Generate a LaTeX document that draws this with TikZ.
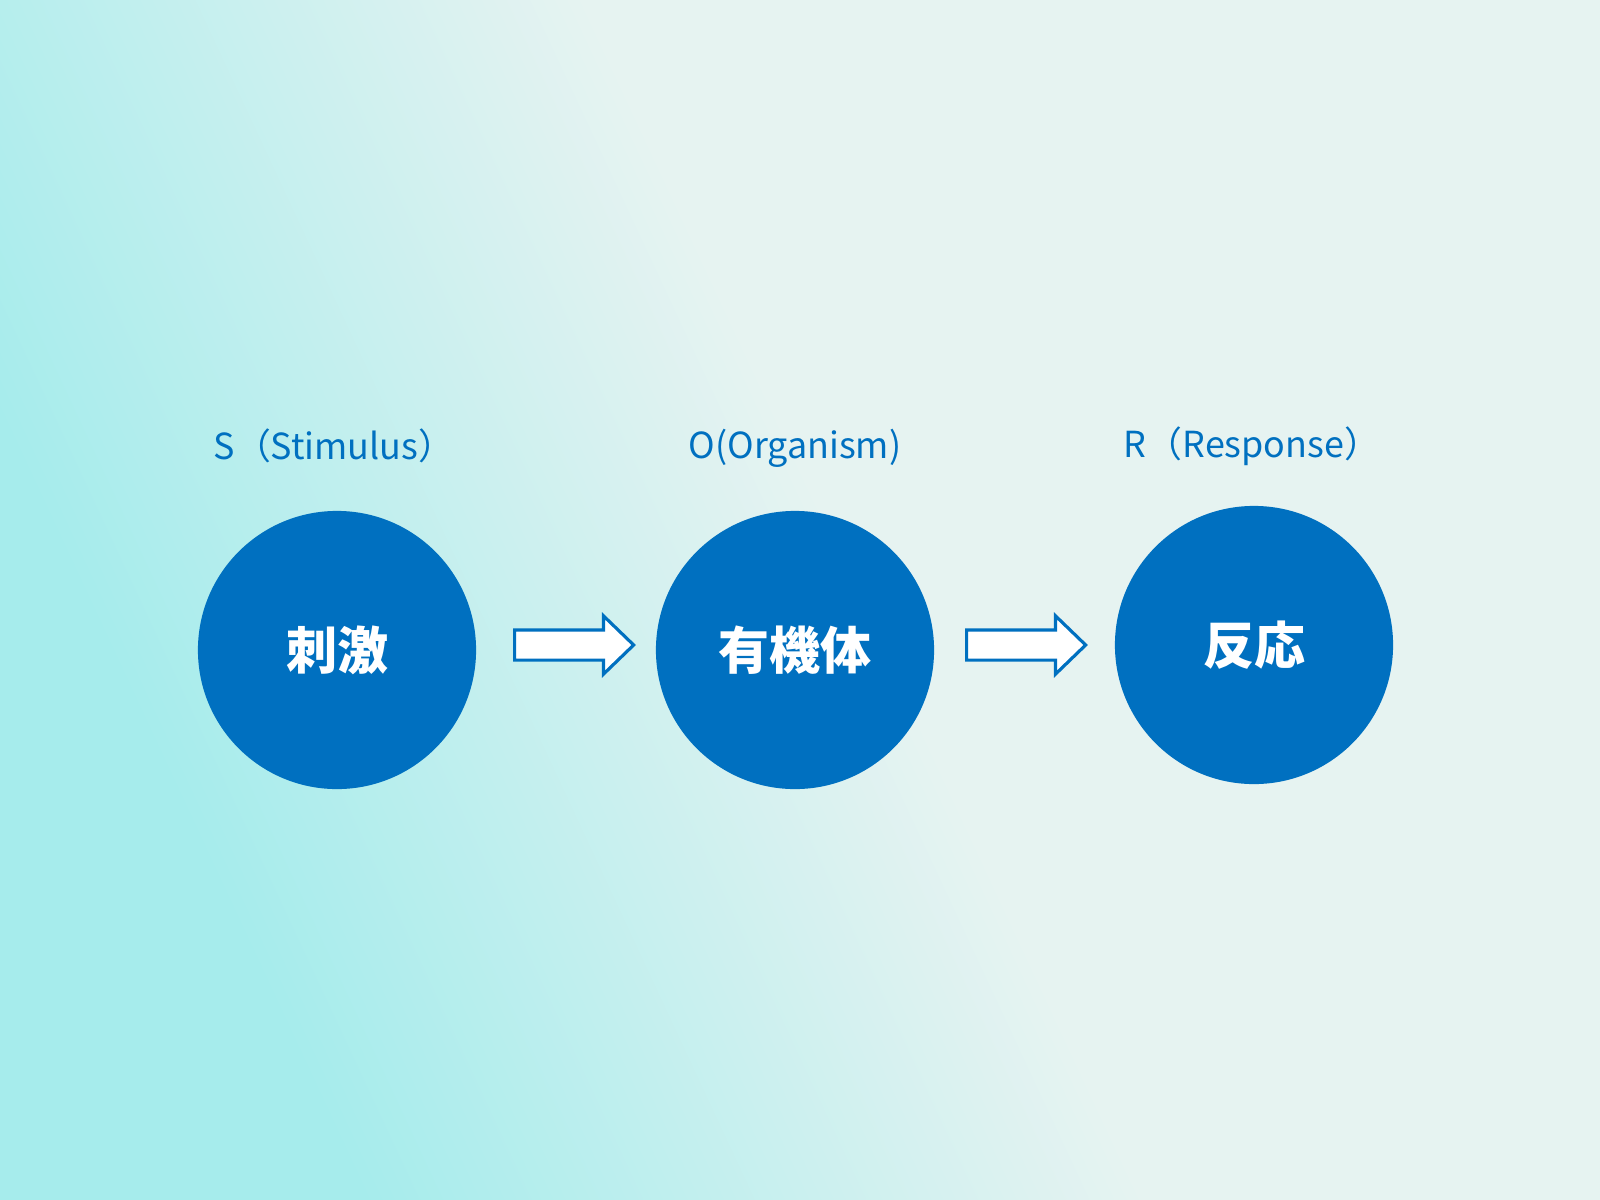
\documentclass[tikz,border=0pt]{standalone}
\usepackage{fontspec}
\setmainfont{Noto Sans CJK JP}
\usetikzlibrary{shapes.arrows}
\definecolor{srblue}{RGB}{0,112,192}
\definecolor{bgcyan}{RGB}{166,236,236}
\definecolor{bglight}{RGB}{230,243,241}
\pgfdeclarehorizontalshading{bgshade}{100bp}{color(0bp)=(bgcyan); color(28bp)=(bgcyan); color(52bp)=(bglight); color(100bp)=(bglight)}
\begin{document}
\begin{tikzpicture}[
        x = 0.01cm, y = -0.01cm,
        stage/.style = {circle, fill=srblue, minimum size=2.78cm, inner sep=0pt,
          text=white, font=\fontsize{14.5}{16}\selectfont\bfseries},
        tag/.style = {text=srblue, font=\fontsize{10.2}{12}\selectfont},
        flow/.style = {single arrow, draw=srblue, fill=white, line width=0.9pt,
          minimum height=1.19cm, inner xsep=0pt, inner ysep=0.135cm,
          single arrow head extend=0.14cm, single arrow tip angle=88, anchor=tail},
      ]
        \shade[shading=bgshade, shading angle=25] (0,0) rectangle (1600,1200);
        \useasboundingbox (0,0) rectangle (1600,1200);
        \node[stage] (stim) at (337,650) {刺激};
        \node[stage] (org) at (795,650) {有機体};
        \node[stage] (resp) at (1254,645) {反応};
        \node[tag] (stimtag) at (334,446) {S（Stimulus）};
        \node[tag] (orgtag) at (795,448) {O(Organism)};
        \node[tag] (resptag) at (1252,446) {R（Response）};
        \node[flow] (f1) at (513,645) {};
        \node[flow] (f2) at (965,645) {};
      \end{tikzpicture}
\end{document}
